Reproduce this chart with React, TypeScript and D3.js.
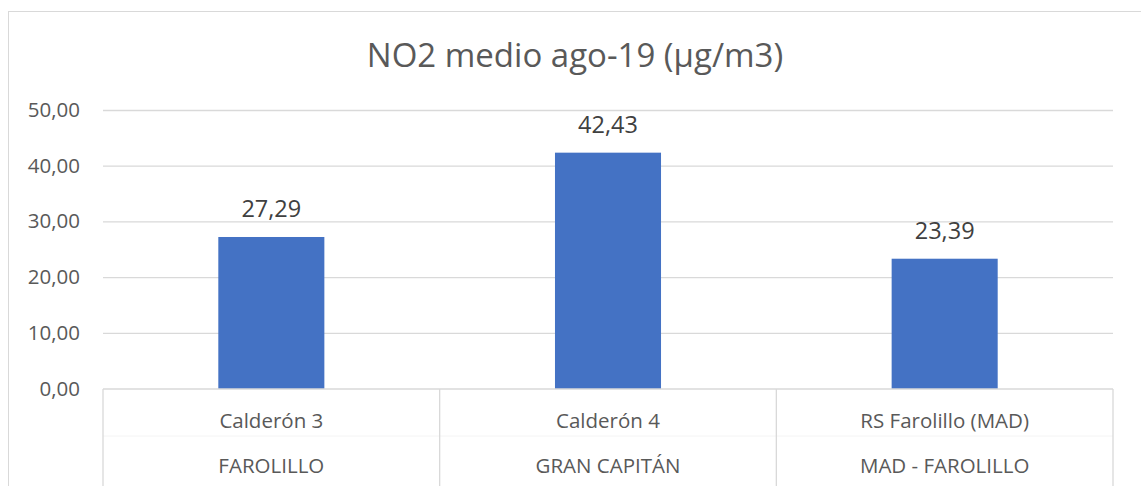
import React from "react";
import * as d3 from "d3";

const categories = ["Calderón 3", "Calderón 4", "RS Farolillo (MAD)"];
const groups = ["FAROLILLO", "GRAN CAPITÁN", "MAD - FAROLILLO"];
const values = [27.29, 42.43, 23.39];
const yTicks = [0, 10, 20, 30, 40, 50];
const title = "NO2 medio ago-19 (µg/m3)";

const W = 1141;
const H = 486;
const left = 103;
const right = 1113;
const top = 110.5;
const bottom = 389;

const fmt = (v: number) => v.toFixed(2).replace(".", ",");

export default function App() {
  const x = d3.scaleBand<string>().domain(categories).range([left, right]).padding(0);
  const y = d3.scaleLinear().domain([0, 50]).range([bottom, top]);
  const bw = x.bandwidth() * 0.315;
  const font = "'Open Sans', sans-serif";
  const textColor = "#595959";
  const grid = "#d9d9d9";
  return (
    <svg
      width={W}
      height={H}
      style={{ position: "absolute", left: 0, top: 0, background: "#fff" }}
      fontFamily={font}
    >
      <rect x={8.5} y={11.5} width={W + 10} height={H + 10} fill="#fff" stroke={grid} strokeWidth={1} />
      <text x={575} y={67} textAnchor="middle" fontSize={33} fill={textColor}>
        {title}
      </text>
      {yTicks.map((t) => (
        <g key={t}>
          {t > 0 && (
            <line x1={left} x2={right} y1={y(t)} y2={y(t)} stroke={grid} strokeWidth={1.3} />
          )}
          <text x={80} y={y(t) + 6.5} textAnchor="end" fontSize={20.5} fill={textColor}>
            {fmt(t)}
          </text>
        </g>
      ))}
      {categories.map((c, i) => {
        const cx = (x(c) as number) + x.bandwidth() / 2;
        return (
          <g key={c}>
            <rect x={cx - bw / 2} y={y(values[i])} width={bw} height={bottom - y(values[i])} fill="#4472C4" />
            <text x={cx} y={y(values[i]) - 20} textAnchor="middle" fontSize={23.5} fill="#404040">
              {fmt(values[i])}
            </text>
            <text x={cx} y={428} textAnchor="middle" fontSize={20.5} fill={textColor}>
              {c}
            </text>
            <text x={cx} y={473} textAnchor="middle" fontSize={20.5} fill={textColor}>
              {groups[i]}
            </text>
          </g>
        );
      })}
      <line x1={left} x2={right} y1={436} y2={436} stroke="#f4f4f4" strokeWidth={1} />
      <line x1={left} x2={right} y1={bottom} y2={bottom} stroke={grid} strokeWidth={1.3} />
      {[...categories.map((c) => x(c) as number), right].map((xv, i) => (
        <line key={i} x1={xv} x2={xv} y1={bottom} y2={H} stroke={grid} strokeWidth={1.3} />
      ))}
    </svg>
  );
}
